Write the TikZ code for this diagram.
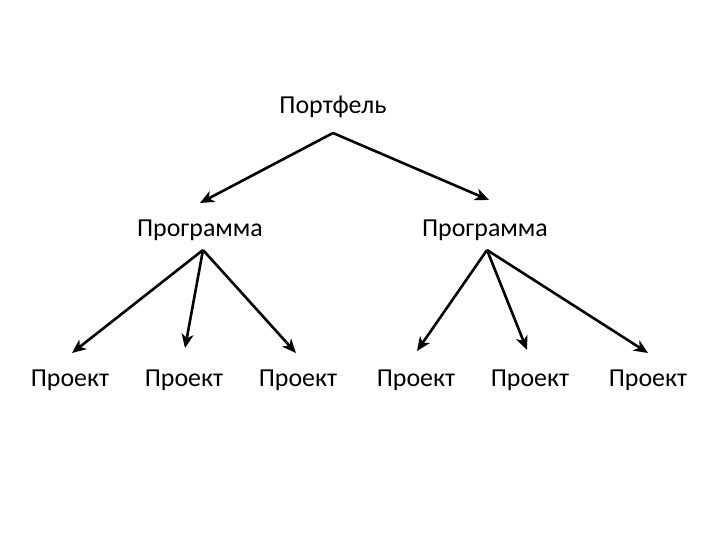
\documentclass[tikz,border=0pt]{standalone}
\usepackage{fontspec}
\setmainfont{Carlito}
\usetikzlibrary{arrows.meta}
\begin{document}
\begin{tikzpicture}[x=1bp,y=-1bp,
  lbl/.style={inner sep=0pt,font=\fontsize{26}{30}\selectfont},
  arr/.style={line width=2.6pt,-{Stealth[length=14pt,width=12pt,inset=4pt]}}]
\useasboundingbox (0,0) rectangle (720,540);
\node[lbl] (pf) at (333,107) {Портфель};
\node[lbl] (p1) at (200,230) {Программа};
\node[lbl] (p2) at (485,230) {Программа};
\node[lbl] (a) at (70,380) {Проект};
\node[lbl] (b) at (184,380) {Проект};
\node[lbl] (c) at (298,380) {Проект};
\node[lbl] (d) at (416,380) {Проект};
\node[lbl] (e) at (530,380) {Проект};
\node[lbl] (f) at (648,380) {Проект};
\coordinate (pfb) at (333,133);
\coordinate (p1b) at (203,250);
\coordinate (p2b) at (487,250);
\draw[arr] (pfb) -- (200,203) coordinate (t1);
\draw[arr] (pfb) -- (489,200) coordinate (t2);
\draw[arr] (p1b) -- (72,353) coordinate (ta);
\draw[arr] (p1b) -- (185,348) coordinate (tb);
\draw[arr] (p1b) -- (296,353) coordinate (tc);
\draw[arr] (p2b) -- (417,351) coordinate (td);
\draw[arr] (p2b) -- (527,350) coordinate (te);
\draw[arr] (p2b) -- (648,353) coordinate (tf);
\end{tikzpicture}
\end{document}
